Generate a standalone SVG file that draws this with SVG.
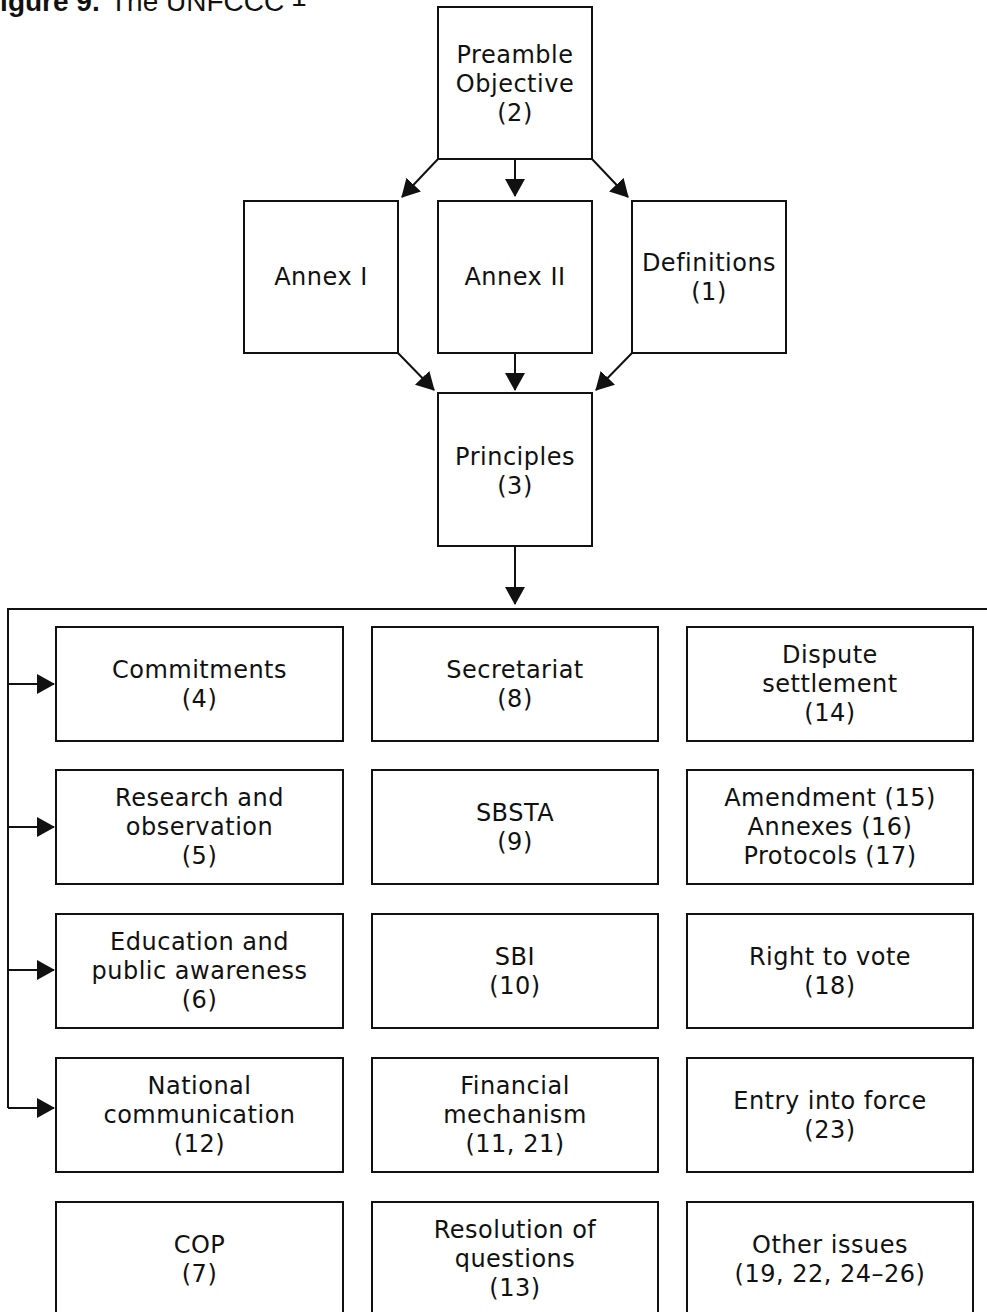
<svg xmlns="http://www.w3.org/2000/svg" width="987" height="1312" viewBox="0 0 987 1312">
  <style>
    .box { fill: #ffffff; stroke: #111111; stroke-width: 2; }
    .lbl { font-family: "DejaVu Sans", "Noto Sans", sans-serif; font-size: 24px; letter-spacing: 0.5px; fill: #111111; text-anchor: middle; }
    .conn { fill: none; stroke: #111111; stroke-width: 2; }
    .title { font-family: "Liberation Sans", Arial, sans-serif; font-size: 28px; fill: #111111; }
  </style>
  <defs>
    <marker id="arrow" viewBox="0 0 18 20" refX="17" refY="10" markerWidth="18" markerHeight="20" markerUnits="userSpaceOnUse" orient="auto">
      <path d="M0,0 L18,10 L0,20 z" fill="#111111"/>
    </marker>
  </defs>
  <rect width="987" height="1312" fill="#ffffff"/>

  <g id="title">
    <text class="title" x="-17" y="11" font-weight="bold">Figure 9.</text>
    <text class="title" x="110" y="11">The UNFCCC</text>
    <text class="title" x="291" y="6" font-size="17">1</text>
  </g>

  <g id="connectors">
    <line class="conn" x1="515" y1="159" x2="515" y2="196" marker-end="url(#arrow)"/>
    <line class="conn" x1="438" y1="159" x2="402" y2="197" marker-end="url(#arrow)"/>
    <line class="conn" x1="592" y1="159" x2="628" y2="197" marker-end="url(#arrow)"/>
    <line class="conn" x1="398" y1="353" x2="434" y2="390" marker-end="url(#arrow)"/>
    <line class="conn" x1="515" y1="353" x2="515" y2="390" marker-end="url(#arrow)"/>
    <line class="conn" x1="632" y1="353" x2="596" y2="390" marker-end="url(#arrow)"/>
    <line class="conn" x1="515" y1="546" x2="515" y2="604" marker-end="url(#arrow)"/>
    <path class="conn" d="M987,609 H8 V1108"/>
    <line class="conn" x1="8" y1="684" x2="54" y2="684" marker-end="url(#arrow)"/>
    <line class="conn" x1="8" y1="827" x2="54" y2="827" marker-end="url(#arrow)"/>
    <line class="conn" x1="8" y1="970" x2="54" y2="970" marker-end="url(#arrow)"/>
    <line class="conn" x1="8" y1="1108" x2="54" y2="1108" marker-end="url(#arrow)"/>
  </g>

  <g id="preamble">
    <rect class="box" x="438" y="7" width="154" height="152"/>
    <text class="lbl" x="515" y="63">Preamble</text>
    <text class="lbl" x="515" y="92">Objective</text>
    <text class="lbl" x="515" y="121">(2)</text>
  </g>
  <g id="annex1">
    <rect class="box" x="244" y="201" width="154" height="152"/>
    <text class="lbl" x="321" y="285">Annex I</text>
  </g>
  <g id="annex2">
    <rect class="box" x="438" y="201" width="154" height="152"/>
    <text class="lbl" x="515" y="285">Annex II</text>
  </g>
  <g id="definitions">
    <rect class="box" x="632" y="201" width="154" height="152"/>
    <text class="lbl" x="709" y="271">Definitions</text>
    <text class="lbl" x="709" y="300">(1)</text>
  </g>
  <g id="principles">
    <rect class="box" x="438" y="393" width="154" height="153"/>
    <text class="lbl" x="515" y="465">Principles</text>
    <text class="lbl" x="515" y="494">(3)</text>
  </g>

  <!-- row 1: top 627, center 684 -->
  <g id="commitments">
    <rect class="box" x="56" y="627" width="287" height="114"/>
    <text class="lbl" x="199.5" y="677.5">Commitments</text>
    <text class="lbl" x="199.5" y="706.5">(4)</text>
  </g>
  <g id="secretariat">
    <rect class="box" x="372" y="627" width="286" height="114"/>
    <text class="lbl" x="515" y="677.5">Secretariat</text>
    <text class="lbl" x="515" y="706.5">(8)</text>
  </g>
  <g id="dispute">
    <rect class="box" x="687" y="627" width="286" height="114"/>
    <text class="lbl" x="830" y="663">Dispute</text>
    <text class="lbl" x="830" y="692">settlement</text>
    <text class="lbl" x="830" y="721">(14)</text>
  </g>

  <!-- row 2: top 770, center 827 -->
  <g id="research">
    <rect class="box" x="56" y="770" width="287" height="114"/>
    <text class="lbl" x="199.5" y="806">Research and</text>
    <text class="lbl" x="199.5" y="835">observation</text>
    <text class="lbl" x="199.5" y="864">(5)</text>
  </g>
  <g id="sbsta">
    <rect class="box" x="372" y="770" width="286" height="114"/>
    <text class="lbl" x="515" y="820.5">SBSTA</text>
    <text class="lbl" x="515" y="849.5">(9)</text>
  </g>
  <g id="amendment">
    <rect class="box" x="687" y="770" width="286" height="114"/>
    <text class="lbl" x="830" y="806">Amendment (15)</text>
    <text class="lbl" x="830" y="835">Annexes (16)</text>
    <text class="lbl" x="830" y="864">Protocols (17)</text>
  </g>

  <!-- row 3: top 914, center 971 -->
  <g id="education">
    <rect class="box" x="56" y="914" width="287" height="114"/>
    <text class="lbl" x="199.5" y="950">Education and</text>
    <text class="lbl" x="199.5" y="979">public awareness</text>
    <text class="lbl" x="199.5" y="1008">(6)</text>
  </g>
  <g id="sbi">
    <rect class="box" x="372" y="914" width="286" height="114"/>
    <text class="lbl" x="515" y="964.5">SBI</text>
    <text class="lbl" x="515" y="993.5">(10)</text>
  </g>
  <g id="vote">
    <rect class="box" x="687" y="914" width="286" height="114"/>
    <text class="lbl" x="830" y="964.5">Right to vote</text>
    <text class="lbl" x="830" y="993.5">(18)</text>
  </g>

  <!-- row 4: top 1058, center 1115 -->
  <g id="national">
    <rect class="box" x="56" y="1058" width="287" height="114"/>
    <text class="lbl" x="199.5" y="1094">National</text>
    <text class="lbl" x="199.5" y="1123">communication</text>
    <text class="lbl" x="199.5" y="1152">(12)</text>
  </g>
  <g id="financial">
    <rect class="box" x="372" y="1058" width="286" height="114"/>
    <text class="lbl" x="515" y="1094">Financial</text>
    <text class="lbl" x="515" y="1123">mechanism</text>
    <text class="lbl" x="515" y="1152">(11, 21)</text>
  </g>
  <g id="entry">
    <rect class="box" x="687" y="1058" width="286" height="114"/>
    <text class="lbl" x="830" y="1108.5">Entry into force</text>
    <text class="lbl" x="830" y="1137.5">(23)</text>
  </g>

  <!-- row 5: top 1202, center 1259 -->
  <g id="cop">
    <rect class="box" x="56" y="1202" width="287" height="114"/>
    <text class="lbl" x="199.5" y="1252.5">COP</text>
    <text class="lbl" x="199.5" y="1281.5">(7)</text>
  </g>
  <g id="resolution">
    <rect class="box" x="372" y="1202" width="286" height="114"/>
    <text class="lbl" x="515" y="1238">Resolution of</text>
    <text class="lbl" x="515" y="1267">questions</text>
    <text class="lbl" x="515" y="1296">(13)</text>
  </g>
  <g id="other">
    <rect class="box" x="687" y="1202" width="286" height="114"/>
    <text class="lbl" x="830" y="1252.5">Other issues</text>
    <text class="lbl" x="830" y="1281.5">(19, 22, 24–26)</text>
  </g>
</svg>
